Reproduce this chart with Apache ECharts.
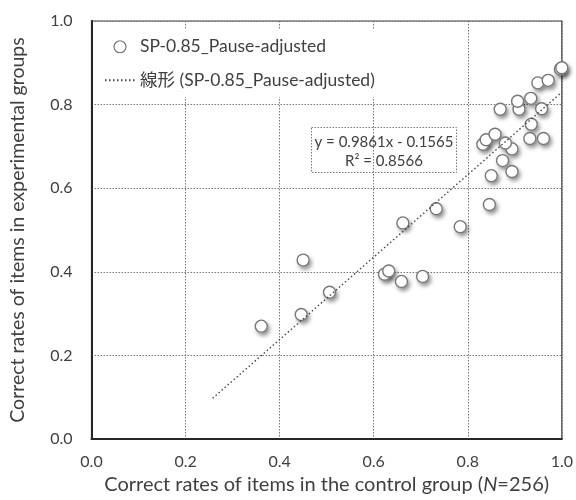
<!DOCTYPE html>
<html><head><meta charset="utf-8">
<script src="https://cdn.jsdelivr.net/npm/echarts@6/dist/echarts.min.js"></script>
<style>html,body{margin:0;padding:0;background:#fff}#c{width:576px;height:500px}</style>
</head><body><div id="c"></div>
<script>
// ---- data ----
const controlRates = [0.361,0.446,0.450,0.506,0.623,0.632,0.659,0.662,0.704,0.733,0.784,0.846,0.850,0.874,0.894,0.894,0.880,0.832,0.839,0.858,0.932,0.961,0.935,0.869,0.909,0.957,0.906,0.934,0.949,0.971,0.997,1.000];
const experimentalRates = [0.270,0.298,0.428,0.351,0.394,0.402,0.377,0.517,0.389,0.551,0.508,0.561,0.630,0.666,0.640,0.694,0.708,0.705,0.716,0.729,0.719,0.719,0.753,0.789,0.789,0.790,0.808,0.815,0.852,0.858,0.885,0.888];
const trendSlope = 0.9861;
const trendIntercept = -0.1565;
const trendRangeX = [0.2575, 1.0];
const axisTicks = [0, 0.2, 0.4, 0.6, 0.8, 1.0];
const seriesName = 'SP-0.85_Pause-adjusted';
const trendName = '線形 (SP-0.85_Pause-adjusted)';
const eqLines = ['y = 0.9861x - 0.1565', 'R² = 0.8566'];
const xAxisName = 'Correct rates of items in the control group ({i|N}=256)';
const yAxisName = 'Correct rates of items in experimental groups';

const scatterData = controlRates.map((x, i) => [x, experimentalRates[i]]);
const trendData = trendRangeX.map(x => [x, trendSlope * x + trendIntercept]);

const FONT = 'Lato, "Noto Sans CJK JP", sans-serif';
const TXT = '#404040';
const chart = echarts.init(document.getElementById('c'), null, {renderer: 'canvas'});
const gridLine = {show: true, lineStyle: {color: '#777', type: [1.5, 1.5], width: 1}};
chart.setOption({
  animation: false,
  backgroundColor: '#fff',
  textStyle: {fontFamily: FONT},
  grid: {left: 88, right: 13, top: 21, bottom: 58, show: true, borderColor: '#404040', borderWidth: 1.2, z: 0},
  legend: {
    orient: 'vertical', left: 96, top: 30, padding: [8, 10, 8, 8],
    backgroundColor: '#fff', itemWidth: 30, itemHeight: 12, itemGap: 16,
    textStyle: {fontSize: 17.5, color: TXT, fontFamily: FONT},
    data: [
      {name: seriesName, itemStyle: {color: '#fff', opacity: 1, borderColor: '#777', borderWidth: 1.2}},
      {name: trendName, itemStyle: {color: 'rgba(0,0,0,0)', borderWidth: 0, opacity: 0}}
    ]
  },
  xAxis: {
    type: 'value', min: 0, max: 1, interval: 0.2,
    axisLine: {show: true, onZero: false, lineStyle: {color: '#262626', width: 2}},
    axisTick: {show: false},
    splitLine: gridLine,
    axisLabel: {fontSize: 16, color: TXT, margin: 15, formatter: v => v.toFixed(1),
      customValues: axisTicks},
    name: xAxisName, nameLocation: 'middle', nameGap: 36,
    nameTextStyle: {fontSize: 20, color: TXT, fontFamily: FONT, rich: {i: {fontStyle: 'italic', fontSize: 20, color: TXT, fontFamily: FONT}}}
  },
  yAxis: {
    type: 'value', min: 0, max: 1, interval: 0.2,
    axisLine: {show: true, onZero: false, lineStyle: {color: '#262626', width: 2}},
    axisTick: {show: false},
    splitLine: gridLine,
    axisLabel: {fontSize: 16, color: TXT, margin: 19, formatter: v => v.toFixed(1)},
    name: yAxisName, nameLocation: 'middle', nameGap: 64, nameRotate: 90,
    nameTextStyle: {fontSize: 19.5, color: TXT, fontFamily: FONT}
  },
  series: [
    {
      // shadow layer underneath the markers
      name: 'shadow', type: 'scatter', data: scatterData, symbol: 'circle', symbolSize: 13,
      itemStyle: {color: '#fff', opacity: 1, borderWidth: 0,
        shadowBlur: 4, shadowColor: 'rgba(0,0,0,0.45)', shadowOffsetX: 2, shadowOffsetY: 3},
      silent: true, z: 1
    },
    {
      name: seriesName, type: 'scatter', data: scatterData, symbol: 'circle', symbolSize: 12,
      itemStyle: {color: '#fff', opacity: 1, borderColor: '#777', borderWidth: 1.4},
      z: 2
    },
    {
      name: trendName, type: 'line', data: trendData, symbol: 'none', showSymbol: false,
      lineStyle: {color: '#444', width: 1.4, type: [1.5, 2.5]},
      itemStyle: {color: '#444'},
      z: 3
    }
  ],
  graphic: [{
    type: 'group', left: 311, top: 127, z: 10,
    children: [
      {type: 'rect', shape: {x: 0, y: 0, width: 145, height: 45},
        style: {fill: '#fff', stroke: '#777', lineWidth: 1, lineDash: [1.5, 1.5]}},
      {type: 'text', x: 72.5, y: 5, style: {text: eqLines.join('\n'), align: 'center', fontSize: 15,
        lineHeight: 19, fill: TXT, fontFamily: FONT}}
    ]
  }]
});
</script></body></html>
